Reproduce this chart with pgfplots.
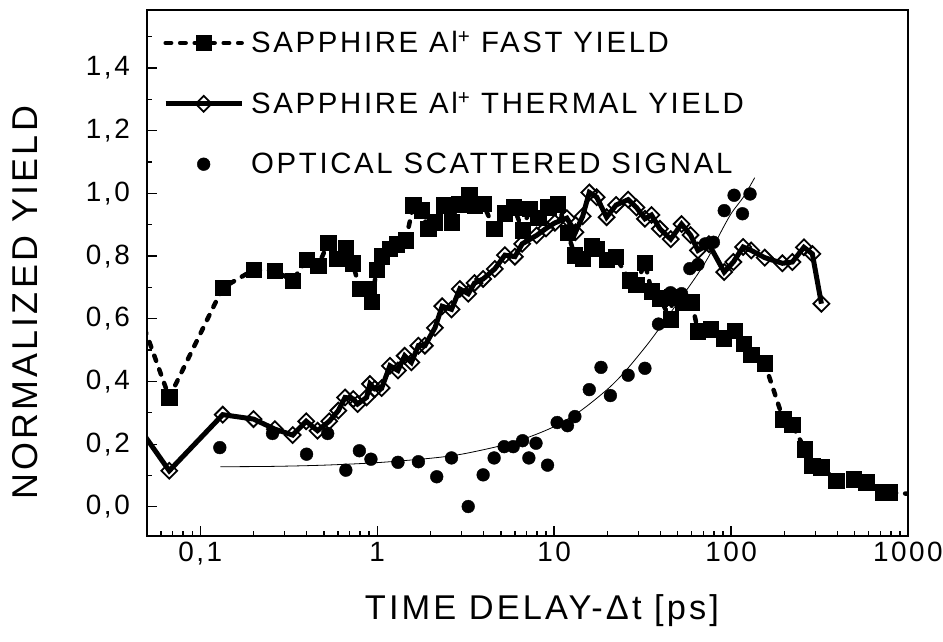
\documentclass[border=0pt]{standalone}
\usepackage{fontspec}
\setmainfont{Liberation Sans}[LetterSpace=9]
\usepackage{pgfplots}
\pgfplotsset{compat=1.18}
\pgfplotsset{
  myleg/.style={legend image code/.code={\draw[mark repeat=2,mark phase=2,##1] plot coordinates {(0bp,0bp) (38bp,0bp) (76bp,0bp)};}}
}
\begin{document}
\begin{tikzpicture}
\useasboundingbox (-147bp,-106bp) rectangle (796bp,536bp);
\begin{axis}[
  scale only axis, width=761bp, height=526bp,
  xmode=log, xmin=0.05, xmax=1000, ymin=-0.093, ymax=1.585,
  axis line style={line width=1.6bp},
  xtick={0.1,1,10,100,1000}, xticklabels={{0,1},1,10,100,1000},
  minor xtick={0.06,0.07,0.08,0.09,0.2,0.3,0.4,0.5,0.6,0.7,0.8,0.9,2,3,4,5,6,7,8,9,20,30,40,50,60,70,80,90,200,300,400,500,600,700,800,900},
  ytick={0,0.2,0.4,0.6,0.8,1.0,1.2,1.4},
  yticklabels={{0,0},{0,2},{0,4},{0,6},{0,8},{1,0},{1,2},{1,4}},
  minor ytick={0.1,0.3,0.5,0.7,0.9,1.1,1.3,1.5},
  tick pos=left, tick align=inside,
  major tick length=10bp, minor tick length=5bp,
  every tick/.style={line width=1.3bp, black},
  ticklabel style={font=\fontsize{28}{34}\selectfont},
  xticklabel style={inner sep=6bp},
  yticklabel style={inner sep=17bp},
  xlabel={TIME DELAY-Δt [ps]},
  ylabel={NORMALIZED YIELD},
  xlabel style={font=\fontsize{34.5}{40}\selectfont, at={(axis description cs:0.519,-0.141)}, anchor=center},
  ylabel style={font=\fontsize{36}{42}\selectfont, at={(axis description cs:-0.160,0.443)}, anchor=center},
  legend cell align=left,
  legend style={at={(axis description cs:0.021,0.965)}, anchor=north west, draw=none, fill=none,
    font=\fontsize{29.5}{35}\selectfont, row sep=32bp, inner sep=0bp,
    nodes={inner sep=3bp}, column sep=4bp},
]
\addplot[myleg, black, line width=4.5bp, line cap=round, dash pattern=on 5.5bp off 9bp,
  mark=square*, mark size=7.7bp, mark options={solid, line width=0.5bp, fill=black}]
  table {
0.04 0.70
0.0668 0.349
0.134 0.699
0.200 0.756
0.264 0.753
0.333 0.722
0.399 0.788
0.465 0.770
0.528 0.842
0.590 0.791
0.664 0.826
0.727 0.777
0.798 0.695
0.889 0.695
0.929 0.655
0.993 0.757
1.06 0.799
1.18 0.823
1.29 0.838
1.45 0.850
1.60 0.962
1.78 0.946
1.94 0.887
2.12 0.908
2.39 0.962
2.63 0.908
2.90 0.965
3.31 0.994
3.56 0.962
3.97 0.967
4.58 0.887
5.27 0.937
5.92 0.956
6.63 0.882
7.29 0.951
8.12 0.922
9.25 0.956
10.5 0.965
11.9 0.874
13.1 0.802
14.5 0.791
16.3 0.831
17.3 0.823
19.8 0.788
22.3 0.797
26.7 0.723
29.1 0.709
32.6 0.779
35.5 0.688
39.6 0.665
45.5 0.599
46.5 0.668
53.5 0.653
60.0 0.653
65.0 0.560
77.0 0.566
91.0 0.538
105 0.562
118 0.520
130 0.485
155 0.458
197 0.280
222 0.262
261 0.184
288 0.131
324 0.126
394 0.083
493 0.088
582 0.078
723 0.046
789 0.046
1100 0.040
};
\addlegendentry{SAPPHIRE Al\textsuperscript{+} FAST YIELD}
\addplot[myleg, black, line width=5bp,
  mark=square, mark size=5.6bp, mark options={rotate=45, line width=1.8bp, fill=white}]
  table {
0.04 0.294
0.0668 0.115
0.134 0.294
0.200 0.280
0.264 0.248
0.333 0.229
0.397 0.273
0.460 0.243
0.536 0.273
0.603 0.307
0.658 0.349
0.733 0.344
0.775 0.328
0.871 0.349
0.910 0.392
0.970 0.376
1.06 0.379
1.18 0.450
1.31 0.435
1.43 0.482
1.56 0.461
1.71 0.514
1.86 0.514
2.12 0.571
2.33 0.640
2.63 0.630
2.93 0.695
3.27 0.680
3.55 0.714
3.97 0.727
4.62 0.759
5.27 0.803
6.00 0.798
6.60 0.839
7.96 0.866
9.00 0.888
10.1 0.906
11.8 0.921
13.2 0.876
14.5 0.927
15.8 1.003
17.4 0.988
19.8 0.924
22.4 0.963
26.2 0.980
29.2 0.955
32.6 0.919
35.5 0.931
39.6 0.887
45.6 0.854
52.5 0.902
59.0 0.867
65.0 0.818
75.0 0.838
91.5 0.749
103 0.781
117 0.829
130 0.818
155 0.795
195 0.777
222 0.781
258 0.828
288 0.807
324 0.648
};
\addlegendentry{SAPPHIRE Al\textsuperscript{+} THERMAL YIELD}
\addplot[myleg, black, only marks, mark=*, mark size=6.4bp]
  table {
0.129 0.189
0.256 0.234
0.399 0.168
0.525 0.234
0.665 0.117
0.793 0.179
0.922 0.152
1.31 0.142
1.71 0.144
2.17 0.096
2.63 0.156
3.27 0.001
3.97 0.102
4.58 0.156
5.22 0.192
5.87 0.192
6.63 0.211
7.20 0.156
7.90 0.203
9.18 0.133
10.4 0.269
11.9 0.259
13.1 0.288
15.8 0.374
18.4 0.445
20.8 0.355
26.2 0.420
32.6 0.442
38.9 0.583
45.5 0.683
52.5 0.680
58.5 0.760
65.0 0.773
71.5 0.839
79.5 0.844
91.5 0.945
104 0.994
116 0.935
128 0.998
};
\addlegendentry{OPTICAL SCATTERED SIGNAL}
\addplot[black, line width=0.8bp, smooth, no marks, forget plot]
  table {
0.13 0.128
0.25 0.129
0.5 0.133
1.0 0.141
2.0 0.155
3.0 0.168
5.0 0.195
7.0 0.220
10 0.256
14 0.305
20 0.375
25 0.430
33 0.512
40 0.575
50 0.652
64 0.738
75 0.800
86 0.868
100 0.935
118 0.990
136 1.050
};
\end{axis}
\end{tikzpicture}
\end{document}
